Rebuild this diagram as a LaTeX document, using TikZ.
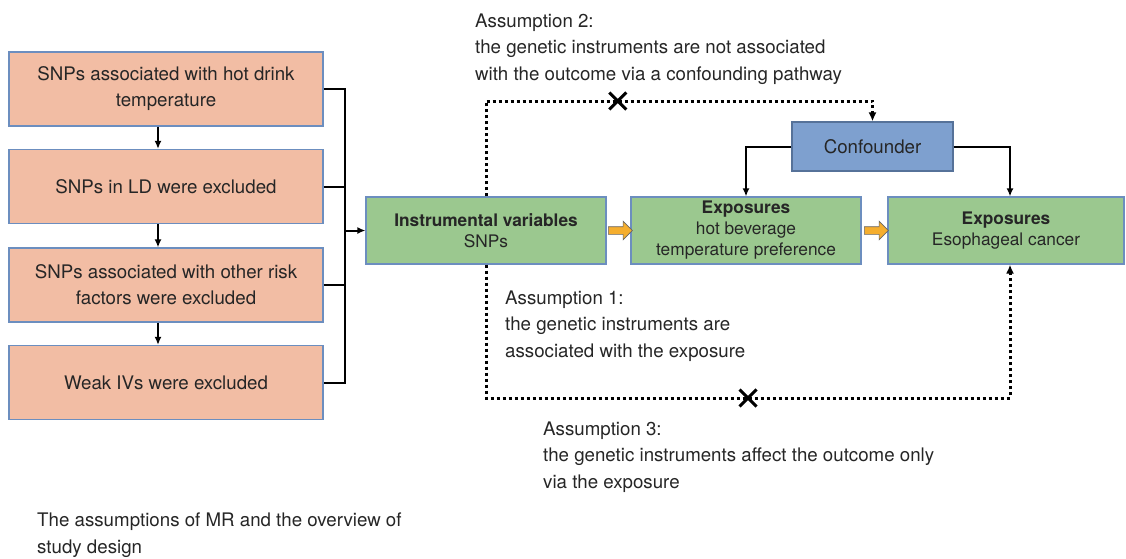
\documentclass[tikz,border=0pt]{standalone}
\usepackage{fontspec}
\setmainfont{TeX Gyre Heros}
\usetikzlibrary{arrows.meta,shapes.arrows,shapes.misc}

\definecolor{salmon}{RGB}{242,189,164}
\definecolor{boxline}{RGB}{108,142,191}
\definecolor{leaf}{RGB}{155,200,143}
\definecolor{confblue}{RGB}{126,160,207}
\definecolor{ink}{RGB}{38,38,38}
\definecolor{amber}{RGB}{245,174,46}

\tikzset{
  filterbox/.style={draw=boxline, fill=salmon, line width=1.2pt, minimum width=314pt, minimum height=74pt, align=center, text=ink, font=\fontsize{18.7}{26}\selectfont},
  mrbox/.style={draw=boxline, fill=leaf, line width=1.2pt, minimum height=67pt, align=center, text=ink, font=\fontsize{17.3}{21}\selectfont},
  confbox/.style={draw=boxline!80!black, fill=confblue, line width=1.2pt, minimum width=161pt, minimum height=49pt, text=ink, font=\fontsize{18.7}{22}\selectfont},
  link/.style={line width=2pt, -{Latex[length=8pt,width=7pt]}},
  busline/.style={line width=2pt},
  dotlink/.style={line width=3pt, dash pattern=on 3pt off 3pt, -{Latex[length=9pt,width=8pt]}},
  xmark/.style={cross out, draw, solid, line width=3pt, minimum size=14pt, inner sep=0pt},
  fatarrow/.style={single arrow, draw=gray!80!black, fill=amber, line width=0.6pt, minimum height=24pt, inner sep=3.5pt, single arrow head extend=5.5pt},
  note/.style={anchor=base west, align=left, text=ink, inner sep=0pt, font=\fontsize{18.7}{26.5}\selectfont}
}

\begin{document}
\begin{tikzpicture}[x=1pt,y=-1pt]
\useasboundingbox (0,0) rectangle (1126,558);

% selection of the instruments
\node[filterbox] (s1) at (166,89) {SNPs associated with hot drink\\temperature};
\node[filterbox] (s2) at (166,186.5) {SNPs in LD were excluded};
\node[filterbox] (s3) at (166,285) {SNPs associated with other risk\\factors were excluded};
\node[filterbox] (s4) at (166,382.5) {Weak IVs were excluded};
\foreach \a/\b in {s1/s2,s2/s3,s3/s4}
  \draw[link] ([xshift=-8pt]\a.south) -- ([xshift=-8pt]\b.north);

\coordinate (bus) at (345,0);
\draw[busline] (s1.east) -- (s1.east -| bus) -- (s4.east -| bus) -- (s4.east);
\draw[busline] (s2.east) -- (s2.east -| bus);
\draw[busline] (s3.east) -- (s3.east -| bus);

% the MR model
\node[mrbox, minimum width=240pt] (iv) at (486,230.5) {\textbf{Instrumental variables}\\SNPs};
\node[mrbox, minimum width=230pt] (exp) at (746,230.5) {\textbf{Exposures}\\hot beverage\\temperature preference};
\node[mrbox, minimum width=236pt] (out) at (1006,230.5) {\textbf{Exposures}\\Esophageal cancer};
\node[confbox] (conf) at (872.5,146.5) {Confounder};

\draw[link] (iv.west -| bus) -- (iv.west);
\path (iv.east) -- node[fatarrow] (ar1) {} (exp.west);
\path (exp.east) -- node[fatarrow] (ar2) {} (out.west);

\coordinate (outtop) at ([xshift=4pt]out.north);
\coordinate (outbot) at ([xshift=4pt]out.south);
\draw[link] (conf.west) -| (exp.north);
\draw[link] (conf.east) -| (outtop);

% assumption paths
\coordinate (topy) at (0,101);
\coordinate (boty) at (0,398);
\draw[dotlink] (iv.north) -- (iv.north |- topy) -- node[xmark, pos=0.341] (x2) {} (conf.north |- topy) -- (conf.north);
\draw[dotlink] (iv.south) -- (iv.south |- boty) -- node[xmark, pos=0.5] (x3) {} (outbot |- boty) -- (outbot);

% base is the last line
\node[note] (a2) at (475,80) {Assumption 2:\\the genetic instruments are not associated\\with the outcome via a confounding pathway};
\node[note] (a1) at (505,357) {Assumption 1:\\the genetic instruments are\\associated with the exposure};
\node[note] (a3) at (543,488) {Assumption 3:\\the genetic instruments affect the outcome only\\via the exposure};
\node[note] (cap) at (37,553) {The assumptions of MR and the overview of\\study design};
\end{tikzpicture}
\end{document}
